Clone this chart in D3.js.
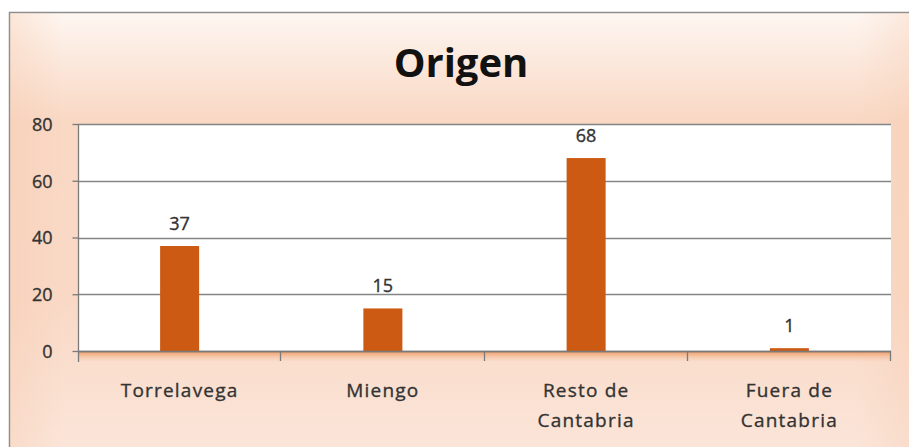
<!DOCTYPE html>
<html lang="es">
<head>
  <meta charset="UTF-8">
  <title>Origen</title>
  <script src="https://cdn.jsdelivr.net/npm/d3@7"></script>
  <style>
  body {
    margin: 0;
    padding: 0;
    background: #fff;
  }
  .axis text, .dataLabel {
    fill: #333;
    stroke: #333;
    stroke-width: 0.35px;
    font-family: "Open Sans", sans-serif;
  }
  .title {
    font-family: "Open Sans", sans-serif;
    font-weight: bold;
    font-size: 40px;
    fill: #111;
  }
  </style>
</head>
<body>
  <div id="chart"></div>
<script>
  // datos
  var categories = ['Torrelavega', 'Miengo', 'Resto de\nCantabria', 'Fuera de\nCantabria'];
  var values = [37, 15, 68, 1];
  var yTicks = [0, 20, 40, 60, 80];

  var width = 909, height = 447;
  var plot = {left: 78, right: 891, top: 124, bottom: 351};

  var svg = d3.select('#chart')
    .append('svg')
    .attr('width', width)
    .attr('height', height);

  var defs = svg.append('defs');

  // fondo del grafico
  var bg = defs.append('linearGradient')
    .attr('id', 'bgGrad')
    .attr('x1', 0).attr('y1', 0).attr('x2', 0).attr('y2', 1);
  bg.append('stop').attr('offset', '0%').attr('stop-color', '#fef7f2');
  bg.append('stop').attr('offset', '8%').attr('stop-color', '#fcece2');
  bg.append('stop').attr('offset', '24%').attr('stop-color', '#f9d8c4');
  bg.append('stop').attr('offset', '65%').attr('stop-color', '#f9d9c6');
  bg.append('stop').attr('offset', '100%').attr('stop-color', '#fbe6da');

  var side = defs.append('linearGradient')
    .attr('id', 'sideGrad')
    .attr('x1', 0).attr('y1', 0).attr('x2', 1).attr('y2', 0);
  side.append('stop').attr('offset', '0%').attr('stop-color', '#f6c9ad').attr('stop-opacity', 0.35);
  side.append('stop').attr('offset', '6%').attr('stop-color', '#f6c9ad').attr('stop-opacity', 0);
  side.append('stop').attr('offset', '94%').attr('stop-color', '#f6c9ad').attr('stop-opacity', 0);
  side.append('stop').attr('offset', '100%').attr('stop-color', '#f6c9ad').attr('stop-opacity', 0.3);

  var shadow = defs.append('linearGradient')
    .attr('id', 'shadowGrad')
    .attr('x1', 0).attr('y1', 0).attr('x2', 0).attr('y2', 1);
  shadow.append('stop').attr('offset', '0%').attr('stop-color', '#ee9155').attr('stop-opacity', 0.95);
  shadow.append('stop').attr('offset', '100%').attr('stop-color', '#f6c3a2').attr('stop-opacity', 0);

  svg.append('rect')
    .attr('x', 9.5).attr('y', 12.5)
    .attr('width', width).attr('height', height)
    .attr('fill', 'url(#bgGrad)')
    .attr('stroke', '#8e8e8e')
    .attr('stroke-width', 1.5);
  svg.append('rect')
    .attr('x', 10).attr('y', 13)
    .attr('width', width - 10).attr('height', height - 13)
    .attr('fill', 'url(#sideGrad)');

  // titulo
  svg.append('text')
    .attr('class', 'title')
    .attr('x', 461)
    .attr('y', 77)
    .attr('text-anchor', 'middle')
    .text('Origen');

  // escalas
  var xScale = d3.scaleBand()
    .domain(categories)
    .range([plot.left, plot.right])
    .paddingInner(0.808)
    .paddingOuter(0.404);

  var yScale = d3.scaleLinear()
    .domain([0, 80])
    .range([plot.bottom, plot.top]);

  // area de trazado
  svg.append('rect')
    .attr('x', plot.left)
    .attr('y', plot.top)
    .attr('width', plot.right - plot.left)
    .attr('height', plot.bottom - plot.top)
    .attr('fill', '#fff');

  // sombra naranja bajo el eje
  svg.append('rect')
    .attr('x', plot.left)
    .attr('y', plot.bottom)
    .attr('width', plot.right - plot.left)
    .attr('height', 11)
    .attr('fill', 'url(#shadowGrad)');

  // lineas de division
  svg.selectAll('.grid')
    .data(yTicks)
    .enter()
    .append('line')
    .attr('class', 'grid')
    .attr('x1', plot.left)
    .attr('x2', plot.right)
    .attr('y1', function(d){ return Math.round(yScale(d)) + 0.5; })
    .attr('y2', function(d){ return Math.round(yScale(d)) + 0.5; })
    .attr('stroke', '#858585')
    .attr('stroke-width', 1.3);

  // barras
  svg.selectAll('.bar')
    .data(values)
    .enter()
    .append('rect')
    .attr('class', 'bar')
    .attr('x', function(d, i){ return xScale(categories[i]); })
    .attr('y', function(d){ return yScale(d); })
    .attr('width', xScale.bandwidth())
    .attr('height', function(d){ return yScale(0) - yScale(d); })
    .attr('fill', '#cc5a13');

  // etiquetas de datos
  svg.selectAll('.dataLabel')
    .data(values)
    .enter()
    .append('text')
    .attr('class', 'dataLabel')
    .attr('x', function(d, i){ return xScale(categories[i]) + xScale.bandwidth() / 2; })
    .attr('y', function(d){ return yScale(d) - 16; })
    .attr('text-anchor', 'middle')
    .style('font-size', '18px')
    .text(function(d){ return d; });

  // eje Y
  var yAxis = d3.axisLeft(yScale)
    .tickValues(yTicks)
    .tickSize(6)
    .tickPadding(20);

  var yAxisG = svg.append('g')
    .attr('class', 'axis')
    .attr('transform', 'translate(' + (plot.left + 0.5) + ',0)')
    .call(yAxis);
  yAxisG.select('.domain').remove();
  yAxisG.selectAll('.tick line').attr('stroke', '#7a7a7a').attr('stroke-width', 1.3);
  yAxisG.selectAll('text')
    .style('font-size', '18px')
    .attr('dy', '0.36em');

  svg.append('line')
    .attr('x1', plot.left + 0.5).attr('x2', plot.left + 0.5)
    .attr('y1', plot.top).attr('y2', plot.bottom + 11)
    .attr('stroke', '#7a7a7a')
    .attr('stroke-width', 1.3);

  // eje X
  svg.append('line')
    .attr('x1', plot.left).attr('x2', plot.right)
    .attr('y1', plot.bottom + 0.5).attr('y2', plot.bottom + 0.5)
    .attr('stroke', '#7a7a7a')
    .attr('stroke-width', 1.3);

  var edges = d3.range(categories.length + 1).map(function(i){
    return plot.left + i * xScale.step();
  });
  svg.selectAll('.xtick')
    .data(edges.slice(1))
    .enter()
    .append('line')
    .attr('class', 'xtick')
    .attr('x1', function(d){ return Math.round(d) - 0.5; })
    .attr('x2', function(d){ return Math.round(d) - 0.5; })
    .attr('y1', plot.bottom)
    .attr('y2', plot.bottom + 10)
    .attr('stroke', '#7a7a7a')
    .attr('stroke-width', 1.3);

  var xLabels = svg.append('g').attr('class', 'axis');
  xLabels.selectAll('text')
    .data(categories)
    .enter()
    .append('text')
    .attr('x', function(d){ return xScale(d) + xScale.bandwidth() / 2; })
    .attr('y', 397)
    .attr('text-anchor', 'middle')
    .style('font-size', '19px')
    .style('letter-spacing', '1.2px')
    .each(function(d){
      var lines = d.split('\n');
      var t = d3.select(this);
      lines.forEach(function(line, i){
        t.append('tspan')
          .attr('x', xScale(d) + xScale.bandwidth() / 2)
          .attr('dy', i === 0 ? 0 : 30)
          .text(line);
      });
    });
</script>
</body>
</html>
